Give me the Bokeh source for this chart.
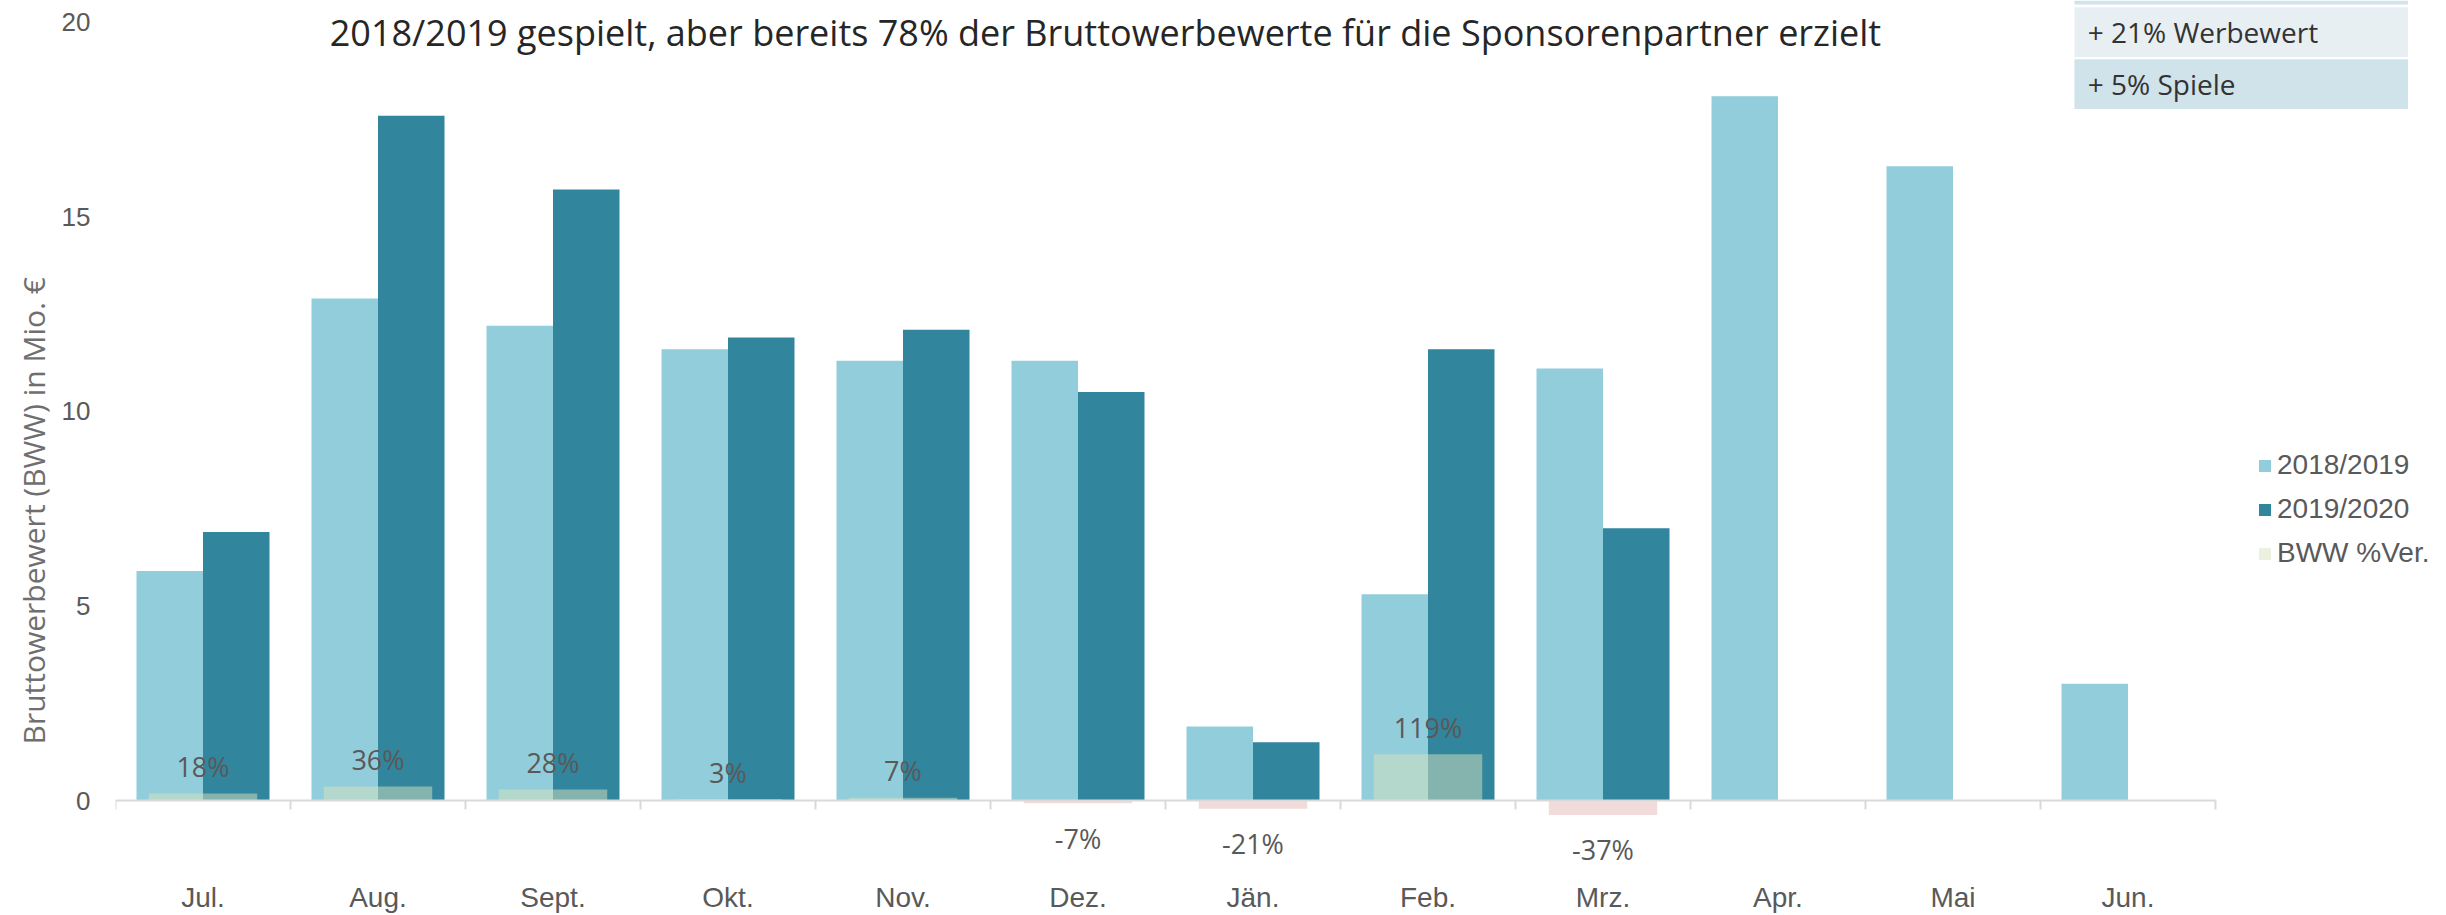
import math
import numpy as np
from bokeh.plotting import figure
from bokeh.models import (ColumnDataSource, Range1d, FixedTicker, Legend, LegendItem, Label, Title)
from bokeh.transform import dodge
from bokeh.core.properties import value
from bokeh.embed import file_html
from bokeh.resources import INLINE

# ---------------- data ----------------
months = ["Jul.", "Aug.", "Sept.", "Okt.", "Nov.", "Dez.", "Jän.", "Feb.", "Mrz.", "Apr.", "Mai", "Jun."]
bww_1819 = [5.9, 12.9, 12.2, 11.6, 11.3, 11.3, 1.9, 5.3, 11.1, 18.1, 16.3, 3.0]
bww_1920 = [6.9, 17.6, 15.7, 11.9, 12.1, 10.5, 1.5, 11.6, 7.0, None, None, None]
pct_change = [18, 36, 28, 3, 7, -7, -21, 119, -37, None, None, None]
y_ticks = [0, 5, 10, 15, 20]
series_names = ["2018/2019", "2019/2020", "BWW %Ver."]
title_text = "2018/2019 gespielt, aber bereits 78% der Bruttowerbewerte für die Sponsorenpartner erzielt"
y_title = "Bruttowerbewert (BWW) in Mio. €"
box_rows = ["", "+ 21% Werbewert", "+ 5% Spiele"]

# ---------------- style ----------------
C1 = "#92CDDC"
C2 = "#31859C"
POS = "#D7E4BD"
NEG = "#E6B8B7"
GREY = "#595959"
LIGHT = "Open Sans"
ARIAL = "Liberation Sans"

n = len(months)
centers = [i + 0.5 for i in range(n)]

W, H = 2446, 915
LEFT = 115
BOTTOM = 34
X_END = (W - LEFT) / 175.0
Y_END = 20.56
Y_START = Y_END - (H - BOTTOM) / 39.0

p = figure(width=W, height=H,
           x_range=Range1d(0, X_END), y_range=Range1d(Y_START, Y_END),
           output_backend="svg", toolbar_location=None,
           min_border_left=LEFT, min_border_right=0, min_border_top=0, min_border_bottom=BOTTOM)
p.outline_line_color = None
p.xgrid.visible = False
p.ygrid.visible = False
p.background_fill_color = "white"

src = ColumnDataSource(dict(
    x=centers,
    a=bww_1819,
    b=[np.nan if v is None else v for v in bww_1920],
))
r1 = p.vbar(x=dodge("x", -0.19), top="a", width=0.38, source=src,
            fill_color=C1, line_color=None)
r2 = p.vbar(x=dodge("x", 0.19), top="b", width=0.38, source=src,
            fill_color=C2, line_color=None)

px, pfrac, plab, pcol, poff = [], [], [], [], []
for c, v in zip(centers, pct_change):
    if v is None:
        continue
    px.append(c)
    pfrac.append(v / 100.0)
    plab.append(f"{v}%")
    pcol.append(POS if v >= 0 else NEG)
    poff.append(-27 if v >= 0 else 35)
psrc = ColumnDataSource(dict(x=px, frac=pfrac, label=plab, color=pcol, yoff=poff))
r3 = p.vbar(x="x", top="frac", bottom=0, width=0.62, source=psrc,
            fill_color="color", fill_alpha=0.5, line_color=None)

# zero baseline with boundary ticks
p.segment(x0=0, y0=0, x1=n, y1=0, line_color="#D9D9D9", line_width=2)
p.ray(x=list(range(n + 1)), y=0, length=9, length_units="screen", angle=-math.pi / 2,
      line_color="#D9D9D9", line_width=2)

p.text(x="x", y="frac", text="label", y_offset="yoff", source=psrc,
       text_align="center", text_baseline="middle", text_font=value(LIGHT),
       text_font_size="27px", text_color=GREY)

# axes
xa = p.xaxis[0]
xa.ticker = FixedTicker(ticks=centers)
xa.major_label_overrides = {c: m for c, m in zip(centers, months)}
xa.axis_line_color = None
xa.major_tick_line_color = None
xa.minor_tick_line_color = None
xa.major_tick_out = 0
xa.major_label_standoff = 2
xa.major_label_text_font = ARIAL
xa.major_label_text_font_size = "28px"
xa.major_label_text_color = GREY

ya = p.yaxis[0]
ya.ticker = FixedTicker(ticks=y_ticks)
ya.axis_line_color = None
ya.major_tick_line_color = None
ya.minor_tick_line_color = None
ya.major_tick_out = 0
ya.major_label_standoff = 25
ya.major_label_text_font = ARIAL
ya.major_label_text_font_size = "26px"
ya.major_label_text_color = GREY

# y title as a side title (anchored at the bottom of the panel, shifted up)
p.add_layout(Title(text=y_title, align="left", offset=135, standoff=10,
                   text_font=LIGHT, text_font_size="30px", text_font_style="normal",
                   text_color="#6F6F6F"), "left")

# chart title
p.add_layout(Label(x=5.657, y=19.74, text=title_text, text_align="center",
                   text_baseline="middle", text_font=LIGHT,
                   text_font_size="36px", text_color="#262626"))

# top-right info box
p.quad(left=[11.194] * 3, right=[13.1] * 3,
       top=[Y_END, 20.385, 19.05], bottom=[20.46, 19.103, 17.77],
       fill_color=["#D0E2EA", "#E8EFF3", "#D0E2EA"], line_color=None)
p.text(x=[11.27] * 3, y=[20.7, 19.74, 18.41], text=box_rows, text_align="left",
       text_baseline="middle", text_font=value(LIGHT), text_font_size="28px",
       text_color="#333333")

legend = Legend(items=[LegendItem(label=series_names[0], renderers=[r1]),
                       LegendItem(label=series_names[1], renderers=[r2]),
                       LegendItem(label=series_names[2], renderers=[r3])],
                location=(2142, 310))
legend.glyph_width = 15
legend.glyph_height = 15
legend.label_text_font = ARIAL
legend.label_text_font_size = "28px"
legend.label_text_color = GREY
legend.label_standoff = 5
legend.label_height = 30
legend.spacing = 12
legend.padding = 0
legend.margin = 0
legend.border_line_color = None
legend.background_fill_alpha = 0
p.add_layout(legend)

open("out.html", "w").write(file_html(p, INLINE))
